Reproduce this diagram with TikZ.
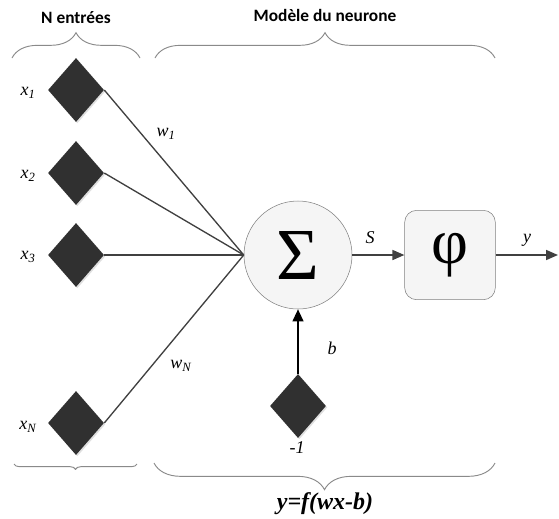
\documentclass[tikz,border=0pt]{standalone}
\usepackage{fontspec}
\setmainfont{Liberation Serif}
\newfontfamily\titrefont{Carlito}
\usepackage{xcolor}
\usepackage{tikz}
\usetikzlibrary{shapes.geometric, arrows.meta, decorations.pathreplacing, shadows}

\definecolor{encre}{HTML}{404040}
\definecolor{losange}{HTML}{303030}
\definecolor{trait}{HTML}{8A8A8A}

\begin{document}
\begin{tikzpicture}[x=0.75pt, y=-0.75pt,
  entree/.style={diamond, fill=losange, minimum width=42pt, minimum height=48pt, inner sep=0pt,
    drop shadow={shadow xshift=1pt, shadow yshift=-1pt, opacity=0.25}},
  poids/.style={draw=encre, line width=1pt},
  fleche/.style={draw=encre, line width=1.2pt, -{Triangle[length=9pt, width=7.5pt]}},
  accolade/.style={draw=trait, line width=0.7pt, decorate, decoration={brace, amplitude=#1}},
  lbl/.style={font=\fontsize{13.5}{15}\selectfont\itshape, inner sep=0pt},
  titre/.style={font=\titrefont\bfseries\fontsize{13}{15}\selectfont, anchor=base}]
  \useasboundingbox (0,0) rectangle (559,518);

  % Titres et accolades du haut
  \node[titre] (tentrees) at (76,23) {N entrées};
  \node[titre] (tmodele) at (325,21) {Modèle du neurone};
  \coordinate (ha) at (12,58);
  \coordinate (hb) at (140,58);
  \coordinate (hc) at (155,58);
  \coordinate (hd) at (495,58);
  \draw[accolade=19pt] (ha) -- (hb);
  \draw[accolade=19pt] (hc) -- (hd);

  % Entrées
  \node[entree] (x1) at (76,90) {};
  \node[entree] (x2) at (76,173) {};
  \node[entree] (x3) at (76,255) {};
  \node[entree] (xN) at (76,423) {};
  \node[lbl] (lx1) at (28,93) {x\textsubscript{1}};
  \node[lbl] (lx2) at (28,176) {x\textsubscript{2}};
  \node[lbl] (lx3) at (28,257) {x\textsubscript{3}};
  \node[lbl] (lxN) at (28,427) {x\textsubscript{N}};

  % Sommateur et fonction d'activation
  \node[circle, draw=gray, fill=gray!8, minimum size=81pt, inner sep=0pt,
    font=\fontsize{55}{55}\selectfont] (sigma) at (298,255) {Σ};
  \node[rectangle, rounded corners=9pt, draw=gray, fill=gray!8, minimum width=68pt,
    minimum height=67pt, inner sep=0pt, font=\fontsize{48}{48}\selectfont] (phi) at (450,255) {φ};
  \coordinate (sortie) at (558,255);

  % Poids
  \draw[poids] (x1.east) -- (sigma.west);
  \draw[poids] (x2.east) -- (sigma.west);
  \draw[poids] (x3.east) -- (sigma.west);
  \draw[poids] (xN.east) -- (sigma.west);
  \node[lbl] (w1) at (166,134) {w\textsubscript{1}};
  \node[lbl] (wN) at (181,366) {w\textsubscript{N}};

  % Sorties
  \draw[fleche] (sigma.east) -- (phi.west);
  \draw[fleche] (phi.east) -- (sortie);
  \node[lbl] (ls) at (370,238) {S};
  \node[lbl] (ly) at (527,240) {y};

  % Biais
  \node[entree] (biais) at (298,406) {};
  \draw[black, line width=1.5pt, -{Triangle[length=9pt, width=8pt]}] (biais.north) -- (sigma.south);
  \node[lbl] (lb) at (332,348) {b};
  \node[lbl] (lm1) at (297,448) {-1};

  % Accolades du bas
  \coordinate (ba) at (137,464);
  \coordinate (bb) at (14,464);
  \coordinate (bc) at (495,463);
  \coordinate (bd) at (154,463);
  \draw[accolade=4pt] (ba) -- (bb);
  \draw[accolade=20pt] (bc) -- (bd);
  \node[font=\fontsize{18}{20}\selectfont\bfseries\itshape, anchor=base] (eq) at (325,509) {y=f(wx-b)};
\end{tikzpicture}
\end{document}
